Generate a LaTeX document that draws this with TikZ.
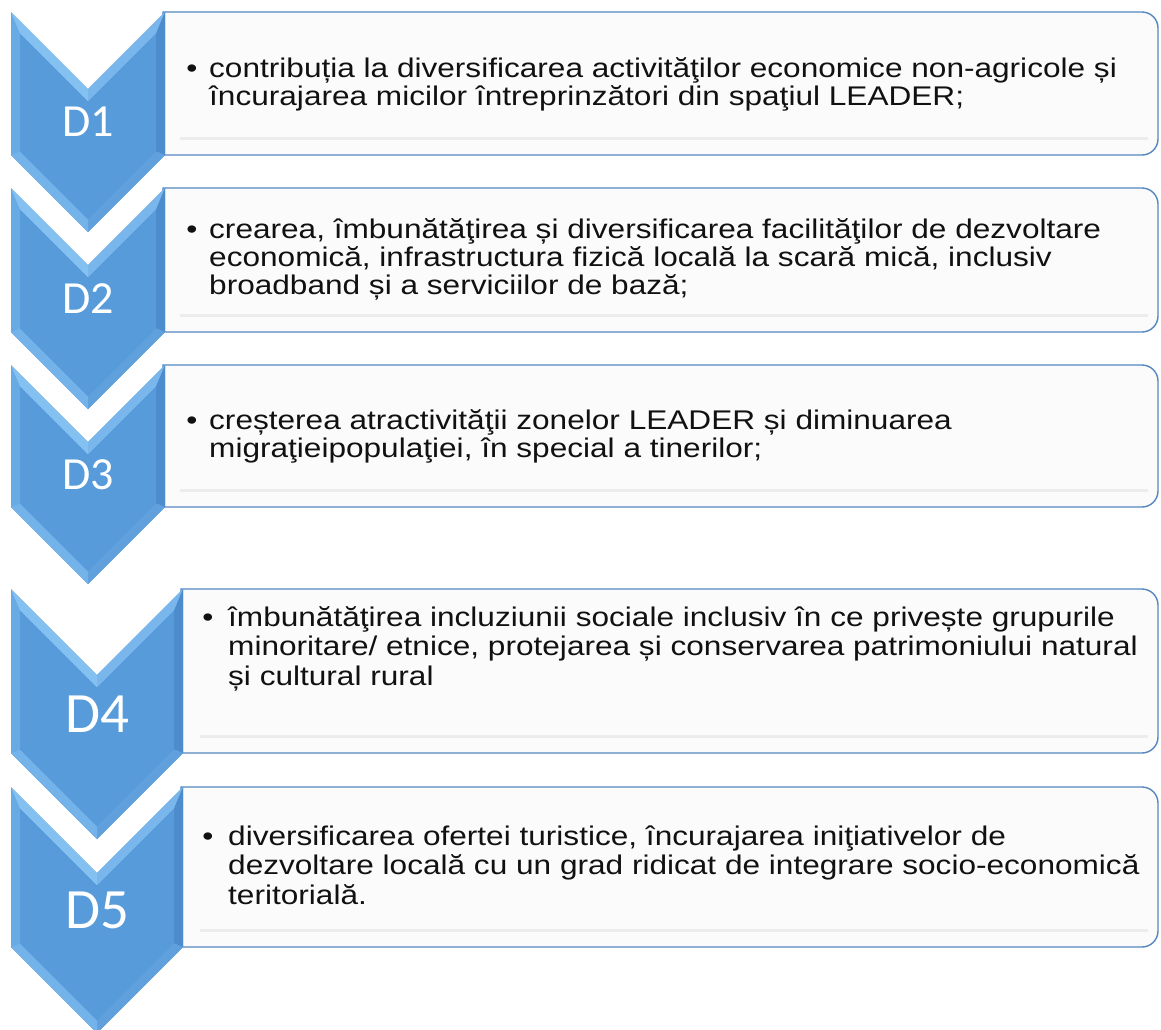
\documentclass[tikz,border=0pt]{standalone}
\usepackage{fontspec}
\setmainfont[FakeStretch=1.17]{Liberation Sans}
\newfontfamily\lblfont{Carlito}
\definecolor{chbase}{RGB}{88,155,218}
\definecolor{chL}{RGB}{104,170,228}
\definecolor{chNL}{RGB}{132,192,240}
\definecolor{chNR}{RGB}{120,182,236}
\definecolor{chR}{RGB}{76,140,204}
\definecolor{chBR}{RGB}{96,160,220}
\definecolor{chBL}{RGB}{116,178,234}
\definecolor{boxline}{RGB}{84,134,192}
\definecolor{boxfill}{RGB}{251,251,251}
\definecolor{refl}{RGB}{236,236,236}
\definecolor{txtcol}{RGB}{17,17,17}
\newcommand{\drawchev}[4]{%
 \pgfmathsetmacro\zzC{(#1+#2)/2}%
 \pgfmathsetmacro\zzH{(#2-#1)/2}%
 \def\zzd{9}\def\zzs{12.73}%
 \coordinate (oTL) at (#1,#3);
 \coordinate (oN) at (\zzC,#3+\zzH);
 \coordinate (oTR) at (#2,#3);
 \coordinate (oBR) at (#2,#4);
 \coordinate (oP) at (\zzC,#4+\zzH);
 \coordinate (oBL) at (#1,#4);
 \coordinate (iTL) at (#1+\zzd,#3+\zzd+\zzs);
 \coordinate (iN) at (\zzC,#3+\zzH+\zzs);
 \coordinate (iTR) at (#2-\zzd,#3+\zzd+\zzs);
 \coordinate (iBR) at (#2-\zzd,#4+\zzd-\zzs);
 \coordinate (iP) at (\zzC,#4+\zzH-\zzs);
 \coordinate (iBL) at (#1+\zzd,#4+\zzd-\zzs);
 \fill[chbase] (oTL) -- (oN) -- (oTR) -- (oBR) -- (oP) -- (oBL) -- cycle;
 \fill[chL] (oTL) -- (iTL) -- (iBL) -- (oBL) -- cycle;
 \fill[chNL] (oTL) -- (oN) -- (iN) -- (iTL) -- cycle;
 \fill[chNR] (oN) -- (oTR) -- (iTR) -- (iN) -- cycle;
 \fill[chR] (oTR) -- (oBR) -- (iBR) -- (iTR) -- cycle;
 \fill[chBR] (oBR) -- (oP) -- (iP) -- (iBR) -- cycle;
 \fill[chBL] (oP) -- (oBL) -- (iBL) -- (iP) -- cycle;
 \fill[chbase] (iTL) -- (iN) -- (iTR) -- (iBR) -- (iP) -- (iBL) -- cycle;
}
% #1 left x, #2 top, #3 bottom, #4 reflection start
\newcommand{\drawbox}[4]{%
 \draw[boxst] (#1,#2) -- (1142,#2) .. controls (1150.8,#2) and (1158,#2+7.2) .. (1158,#2+16)
   -- (1158,#3-16) .. controls (1158,#3-7.2) and (1150.8,#3) .. (1142,#3) -- (#1,#3) -- cycle;
 \draw[reflst] (#4,#3-17) -- (1148,#3-17);
}
\begin{document}
\begin{tikzpicture}[x=1pt,y=-1pt,
  boxst/.style={fill=boxfill, draw=boxline, line width=1.4pt},
  reflst/.style={draw=refl, line width=3pt},
  txt/.style={anchor=base west, inner sep=0pt, text=txtcol, font=\fontsize{27}{29}\selectfont},
  bul/.style={anchor=base, inner sep=0pt, text=txtcol, font=\fontsize{27}{29}\selectfont},
  lbl/.style={inner sep=0pt, text=white, font=\lblfont\fontsize{46}{46}\selectfont},
  lblbig/.style={inner sep=0pt, text=white, font=\lblfont\fontsize{57}{57}\selectfont}]
\useasboundingbox (0,0) rectangle (1161,1029);
\clip (0,0) rectangle (1161,1029);
\fill[white] (0,0) rectangle (1161,1029);
% boxes
\drawbox{163}{12}{155}{180}
\drawbox{163}{188}{332}{180}
\drawbox{163}{365}{507}{180}
\drawbox{181}{589}{753}{200}
\drawbox{181}{787}{947}{200}
% chevrons
\drawchev{11}{165}{12}{155}
\drawchev{11}{165}{188}{332}
\drawchev{11}{165}{365}{507}
\drawchev{11}{183}{589}{753}
\drawchev{11}{183}{787}{947}
% labels
\node[lbl] (l1) at (88,122) {D1};
\node[lbl] (l2) at (88,299) {D2};
\node[lbl] (l3) at (88,475) {D3};
\node[lblbig] (l4) at (97,714) {D4};
\node[lblbig] (l5) at (97,910) {D5};
% texts D1
\node[bul] (b1) at (192,77) {•};
\node[txt] (t1a) at (209,77) {contribuția la diversificarea activităţilor economice non-agricole și};
\node[txt] (t1b) at (209,105) {încurajarea micilor întreprinzători din spaţiul LEADER;};
% D2
\node[bul] (b2) at (192,238) {•};
\node[txt] (t2a) at (209,238) {crearea, îmbunătăţirea și diversificarea facilităţilor de dezvoltare};
\node[txt] (t2b) at (209,266) {economică, infrastructura fizică locală la scară mică, inclusiv};
\node[txt] (t2c) at (209,294) {broadband și a serviciilor de bază;};
% D3
\node[bul] (b3) at (192,429) {•};
\node[txt] (t3a) at (209,429) {creșterea atractivităţii zonelor LEADER și diminuarea};
\node[txt] (t3b) at (209,457) {migraţieipopulaţiei, în special a tinerilor;};
% D4
\node[bul] (b4) at (208,626) {•};
\node[txt] (t4a) at (228,626) {îmbunătăţirea incluziunii sociale inclusiv în ce privește grupurile};
\node[txt] (t4b) at (228,655.5) {minoritare/ etnice, protejarea și conservarea patrimoniului natural};
\node[txt] (t4c) at (228,685) {și cultural rural};
% D5
\node[bul] (b5) at (208,845) {•};
\node[txt] (t5a) at (228,845) {diversificarea ofertei turistice, încurajarea iniţiativelor de};
\node[txt] (t5b) at (228,874.5) {dezvoltare locală cu un grad ridicat de integrare socio-economică};
\node[txt] (t5c) at (228,904) {teritorială.};
\end{tikzpicture}
\end{document}
